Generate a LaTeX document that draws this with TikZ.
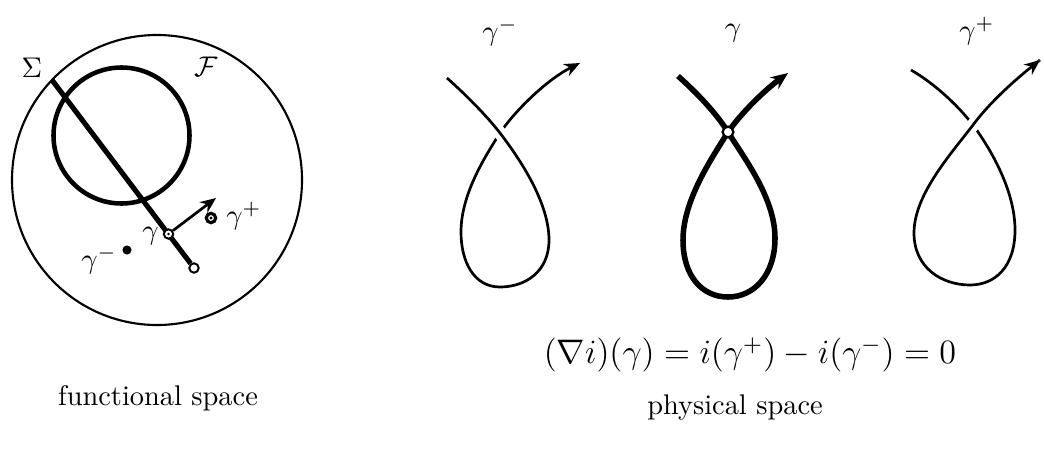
\documentclass[tikz,border=0pt]{standalone}
\usetikzlibrary{arrows.meta}
\begin{document}
\begin{tikzpicture}[x=0.352pt,y=-0.352pt,
  thinline/.style={line width=0.95pt},
  thickline/.style={line width=1.95pt},
  arr/.style={-{Stealth[length=5.5pt,width=4.6pt]}},
  arrthick/.style={-{Stealth[length=6pt,width=5pt]}},
  knotgap/.style={preaction={draw=white,line width=4.5pt}},
  openpt/.style={circle,draw,fill=white,inner sep=0pt,minimum size=3.3pt,line width=0.7pt},
  fullpt/.style={circle,fill,inner sep=0pt,minimum size=3.2pt},
  lbl/.style={inner sep=1pt}]
\useasboundingbox (0,0) rectangle (1044,448);
% ---------- functional space ----------
\coordinate (fc) at (157,180);
\draw[line width=0.75pt] (fc) circle[radius=145];
\coordinate (sc) at (121.5,135.5);
\draw[line width=1.6pt] (sc) circle[radius=68];
\coordinate (s0) at (52,80);
\node[openpt] (send) at (194,268) {};
\draw[line width=1.8pt] (s0) -- (send);
\node[openpt] (g) at (168.5,234) {};
\fill (g.center) circle[radius=1.3];
\coordinate (gtip) at (216,198);
\draw[thinline,arr] (g) -- (gtip);
\node[openpt,line width=1.1pt] (gp) at (211,218) {};
\fill (gp.center) circle[radius=1.6];
\node[fullpt] (gm) at (127,250) {};
\node[lbl,anchor=west] at (223,216) {$\gamma^+$};
\node[lbl,anchor=east] at (162,236) {$\gamma$};
\node[lbl] at (99,260) {$\gamma^-$};
\node[lbl] at (32,68) {$\Sigma$};
\node[lbl] at (206,67) {$\mathcal{F}$};
\node at (158,398) {functional space};
% ---------- physical space: gamma^- ----------
\coordinate (aS) at (447,78);
\coordinate (aC) at (500,133);
\coordinate (aR) at (549,240);
\coordinate (aB) at (500,287);
\coordinate (aL) at (461,232);
\coordinate (aE) at (580,63);
\draw[thinline,arr] (aS) .. controls (466,95) and (486,115) .. (aC)
  .. controls (516,154) and (549,200) .. (aR)
  .. controls (549,272) and (525,287) .. (aB)
  .. controls (474,287) and (461,262) .. (aL)
  .. controls (461,195) and (484,158) .. (aC)
  .. controls (514,112) and (546,80) .. (aE);
\draw[thinline,knotgap] (aS) .. controls (466,95) and (486,115) .. (aC)
  .. controls (516,154) and (549,200) .. (aR);
\node[lbl] at (500,32) {$\gamma^-$};
% ---------- gamma ----------
\coordinate (bS) at (678,76);
\coordinate (bC) at (728,132);
\coordinate (bR) at (775,238);
\coordinate (bB) at (728,297);
\coordinate (bL) at (683,240);
\coordinate (bE) at (788,73);
\draw[thickline,arrthick] (bS) .. controls (698,94) and (716,113) .. (bC)
  .. controls (744,158) and (775,198) .. (bR)
  .. controls (775,275) and (754,297) .. (bB)
  .. controls (702,297) and (683,276) .. (bL)
  .. controls (683,200) and (712,158) .. (bC)
  .. controls (742,112) and (765,90) .. (bE);
\node[openpt,minimum size=3.8pt,line width=0.8pt] (bX) at (bC) {};
\node[lbl] at (733,33) {$\gamma$};
% ---------- gamma^+ ----------
\coordinate (cS) at (911,70);
\coordinate (cC) at (973,125);
\coordinate (cR) at (1015,230);
\coordinate (cB) at (970,285);
\coordinate (cL) at (914,233);
\coordinate (cE) at (1040,60);
\draw[thinline] (cS) .. controls (932,82) and (956,103) .. (cC)
  .. controls (990,148) and (1015,190) .. (cR)
  .. controls (1015,268) and (994,285) .. (cB)
  .. controls (942,285) and (914,268) .. (cL)
  .. controls (914,195) and (950,155) .. (cC)
  .. controls (990,102) and (1015,80) .. (cE);
\draw[thinline,knotgap,arr] (cL) .. controls (914,195) and (950,155) .. (cC)
  .. controls (990,102) and (1015,80) .. (cE);
\node[lbl] at (977,31) {$\gamma^+$};
% ---------- formula ----------
\node[font=\large] at (750,355) {$(\nabla i)(\gamma)=i(\gamma^+)-i(\gamma^-)=0$};
\node at (735,408) {physical space};
\end{tikzpicture}
\end{document}
